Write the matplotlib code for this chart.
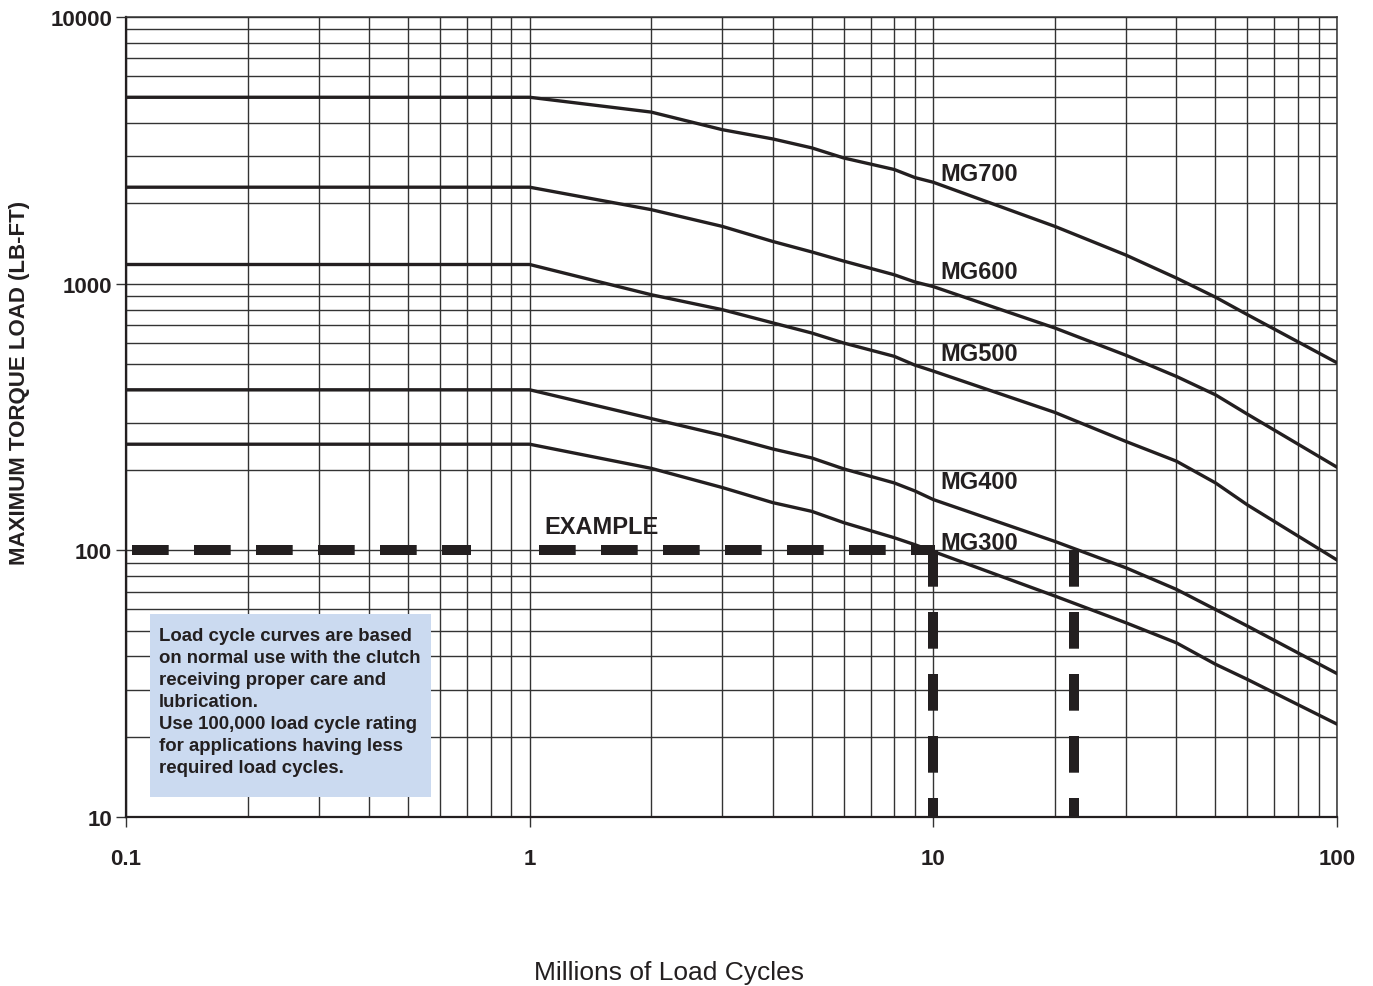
import numpy as np
import matplotlib
matplotlib.use("Agg")
import matplotlib.pyplot as plt
from matplotlib.ticker import LogLocator, FixedLocator, FixedFormatter, NullFormatter
from matplotlib.patches import Rectangle

plt.rcParams['font.family'] = ['Liberation Sans', 'DejaVu Sans']

# ---- data ----
cycles = [0.1, 1, 2, 3, 4, 5, 6, 8, 9, 10, 20, 30, 40, 50, 60, 100]
mg700 = [5000, 5000, 4400, 3780, 3490, 3230, 2960, 2680, 2500, 2400, 1640, 1280, 1050, 890, 765, 505]
mg600 = [2300, 2300, 1895, 1640, 1440, 1315, 1215, 1080, 1015, 975, 682, 539, 449, 383, 324, 205]
mg500 = [1180, 1180, 909, 799, 713, 653, 599, 534, 495, 470, 329, 256, 216, 179, 148, 92]
mg400 = [400, 400, 312, 270, 240, 222, 202, 179, 167, 155, 108, 86, 71.4, 60, 52, 34.5]
mg300 = [250, 250, 203, 172, 151, 140, 127, 111.5, 105, 99, 67.4, 53.5, 45, 37.4, 32.8, 22.3]
series = {"MG700": mg700, "MG600": mg600, "MG500": mg500, "MG400": mg400, "MG300": mg300}

label_x = 10.4
label_y = {"MG700": 2438, "MG600": 1053, "MG500": 516, "MG400": 172, "MG300": 101.5}

# example lines
example_load = 100
example_h1 = [0.1035, 0.714]
example_h2 = [1.054, 10.1]
example_v_x = [10.0, 22.3]
example_v_y = [100, 10]

x_ticks = [0.1, 1, 10, 100]
x_ticklabels = ["0.1", "1", "10", "100"]
y_ticks = [10, 100, 1000, 10000]
y_ticklabels = ["10", "100", "1000", "10000"]

note = ("Load cycle curves are based\n"
        "on normal use with the clutch\n"
        "receiving proper care and\n"
        "lubrication.\n"
        "Use 100,000 load cycle rating\n"
        "for applications having less\n"
        "required load cycles.")

ink = '#231f20'
gridc = '#333333'

fig = plt.figure(figsize=(13.73, 9.87), dpi=100)
ax = fig.add_axes([126/1373, 1-818/987, (1337-126)/1373, (818-18)/987])
ax.set_xscale('log')
ax.set_yscale('log')
ax.set_xlim(0.1, 100)
ax.set_ylim(10, 10000)

ax.xaxis.set_major_locator(FixedLocator(x_ticks))
ax.xaxis.set_major_formatter(FixedFormatter(x_ticklabels))
ax.yaxis.set_major_locator(FixedLocator(y_ticks))
ax.yaxis.set_major_formatter(FixedFormatter(y_ticklabels))
ax.xaxis.set_minor_locator(LogLocator(base=10, subs=np.arange(2, 10)))
ax.yaxis.set_minor_locator(LogLocator(base=10, subs=np.arange(2, 10)))
ax.xaxis.set_minor_formatter(NullFormatter())
ax.yaxis.set_minor_formatter(NullFormatter())

ax.grid(which='both', color=gridc, linewidth=1.0, zorder=0)
ax.set_axisbelow(True)
ax.tick_params(which='minor', length=0)
ax.tick_params(axis='x', which='major', length=7, width=1.0, color=gridc, pad=15,
               labelsize=16, labelcolor=ink)
ax.tick_params(axis='y', which='major', length=7, width=1.0, color=gridc, pad=3,
               labelsize=16, labelcolor=ink)
for lab in ax.get_xticklabels() + ax.get_yticklabels():
    lab.set_fontweight('bold')

for s in ['left', 'bottom']:
    ax.spines[s].set_linewidth(1.6)
    ax.spines[s].set_color(ink)
for s in ['top', 'right']:
    ax.spines[s].set_linewidth(1.1)
    ax.spines[s].set_color(gridc)

for name, vals in series.items():
    ax.plot(cycles, vals, color=ink, linewidth=2.4, solid_joinstyle='round', zorder=3)
    ax.text(label_x, label_y[name], name, fontsize=17, fontweight='bold', color=ink,
            ha='left', va='baseline', zorder=4)

dash = (3.67, 2.53)
lw_d = 7.2
for seg in (example_h1, example_h2):
    ax.plot(seg, [example_load, example_load], color=ink, linewidth=lw_d,
            linestyle=(0, dash), dash_capstyle='butt', zorder=4)
for vx in example_v_x:
    ax.plot([vx, vx], example_v_y, color=ink, linewidth=lw_d,
            linestyle=(0, dash), dash_capstyle='butt', zorder=4)
ax.text(1.09, 115.8, "EXAMPLE", fontsize=17, fontweight='bold', color=ink,
        ha='left', va='baseline', zorder=4)

box = Rectangle((24/1211, 20/800), (431-150)/1211, (798-615)/800,
                transform=ax.transAxes, facecolor='#cbdaf0', edgecolor='none', zorder=2)
ax.add_patch(box)
ax.text(33/1211, (818-628)/800, note, transform=ax.transAxes, fontsize=13.4,
        fontweight='bold', color=ink, ha='left', va='top', linespacing=1.385, zorder=5)

fig.text(20/1373, 1-382.5/987, "MAXIMUM TORQUE LOAD (LB-FT)", rotation=90,
         fontsize=16, fontweight='bold', color=ink, ha='center', va='center')
fig.text(669/1373, 1-980/987, "Millions of Load Cycles", fontsize=19, color=ink,
         ha='center', va='baseline')

fig.savefig("out.png", dpi=100)
